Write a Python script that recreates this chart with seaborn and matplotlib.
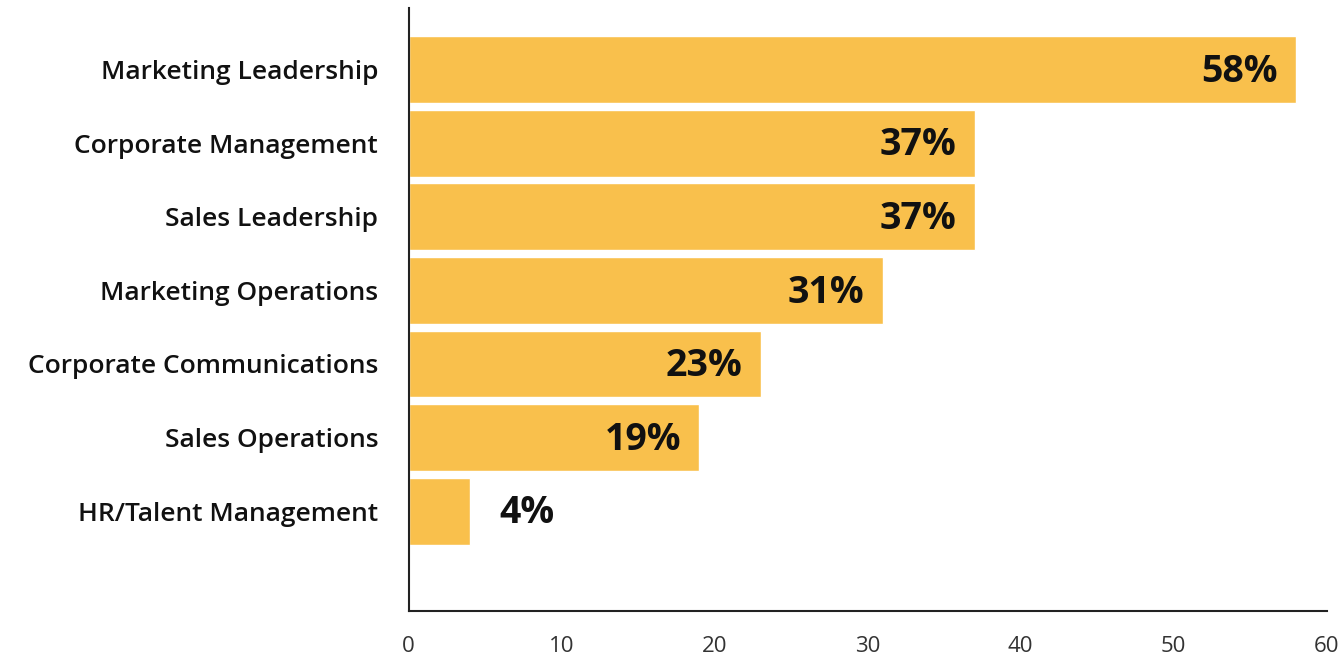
import matplotlib
matplotlib.use("Agg")
import matplotlib.pyplot as plt
import seaborn as sns
import pandas as pd

# Functions that own the initiative
categories = [
    "Marketing Leadership",
    "Corporate Management",
    "Sales Leadership",
    "Marketing Operations",
    "Corporate Communications",
    "Sales Operations",
    "HR/Talent Management",
]
shares = [58, 37, 37, 31, 23, 19, 4]
x_ticks = [0, 10, 20, 30, 40, 50, 60]

df = pd.DataFrame({"function": categories, "share": shares})

sns.set_theme(style="white")
plt.rcParams["font.family"] = ["Open Sans", "DejaVu Sans"]

fig = plt.figure(figsize=(13.4, 6.6), dpi=100)
ax = fig.add_axes([0.305, 0.074, 0.685, 0.914])

sns.barplot(data=df, x="share", y="function", orient="h",
            color="#F9C04C", saturation=1, width=0.91, ax=ax)

for i, v in enumerate(shares):
    label = f"{v}%"
    if v < 10:
        ax.text(v + 1.9, i + 0.03, label, ha="left", va="center",
                fontsize=27, fontweight="bold", color="#111111")
    else:
        ax.text(v - 1.2, i + 0.03, label, ha="right", va="center",
                fontsize=27, fontweight="bold", color="#111111")

ax.set_xlim(0, 60)
ax.set_ylim(7.36, -0.84)
ax.set_xticks(x_ticks)
ax.set_xticklabels([str(t) for t in x_ticks])
ax.set_xlabel("")
ax.set_ylabel("")

for side in ("top", "right"):
    ax.spines[side].set_visible(False)
for side in ("left", "bottom"):
    ax.spines[side].set_color("#222222")
    ax.spines[side].set_linewidth(1.5)

ax.tick_params(axis="x", direction="in", length=11, width=1.3, color="#222222",
               pad=18, labelsize=16, labelcolor="#333333")
ax.tick_params(axis="y", length=0, pad=22, labelsize=19, labelcolor="#111111")
for lbl in ax.get_yticklabels():
    lbl.set_fontweight("semibold")

fig.savefig("out.png", dpi=100, facecolor="white")
